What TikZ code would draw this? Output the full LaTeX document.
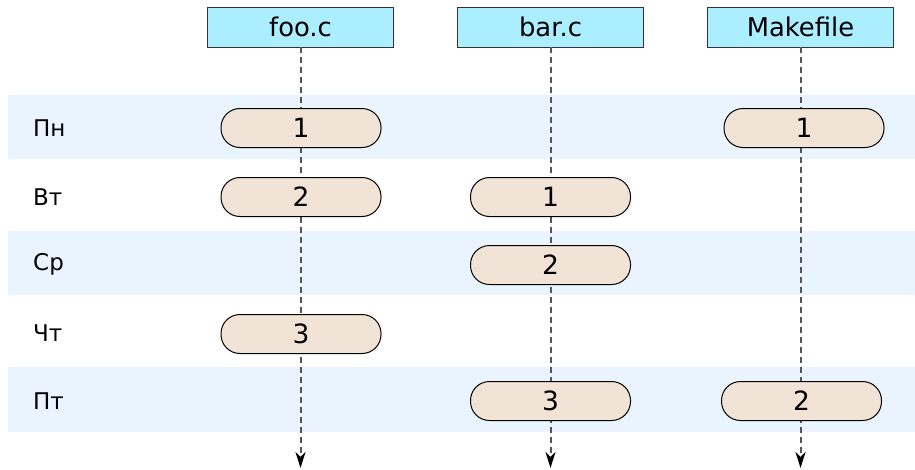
\documentclass[tikz,border=0pt]{standalone}
\usepackage{fontspec}
\setmainfont{DejaVu Sans}
\usetikzlibrary{arrows.meta}
\definecolor{hdr}{HTML}{AAEEFF}
\definecolor{pillc}{HTML}{F2E3D7}
\definecolor{stripe}{HTML}{EAF4FE}
\definecolor{life}{HTML}{555555}
\tikzset{
 hdrbox/.style={draw=black!80, fill=hdr, line width=0.8pt, minimum width=186pt, minimum height=40pt, inner sep=0pt, font=\fontsize{25.8}{30}\selectfont},
 pillbox/.style={draw=black, fill=pillc, line width=1pt, rounded corners=19pt, minimum width=160pt, minimum height=39pt, inner sep=0pt, font=\fontsize{26.5}{30}\selectfont},
 daylabel/.style={anchor=west, font=\fontsize{23}{27}\selectfont, inner sep=0pt},
 lifeline/.style={draw=life, line width=2pt, dash pattern=on 6pt off 4pt, -{Stealth[length=16pt,width=10pt,inset=5pt,black]}},
 stripefill/.style={fill=stripe}
}
\begin{document}
\begin{tikzpicture}[x=1pt,y=-1pt]
\useasboundingbox (0,0) rectangle (915,469);
\fill[white] (0,0) rectangle (915,469);
\fill[stripefill] (8,95) rectangle (915,159);
\fill[stripefill] (8,231) rectangle (915,295);
\fill[stripefill] (8,367) rectangle (915,432);
\node[daylabel] (d1) at (33,128) {Пн};
\node[daylabel] (d2) at (33,197) {Вт};
\node[daylabel] (d3) at (33,264) {Ср};
\node[daylabel] (d4) at (33,333) {Чт};
\node[daylabel] (d5) at (33,401) {Пт};
\node[hdrbox] (foo) at (300.5,27) {foo.c};
\node[hdrbox] (bar) at (550.5,27) {bar.c};
\node[hdrbox] (mk) at (800.5,27) {Makefile};
\coordinate (fooend) at (300.5,468);
\coordinate (barend) at (550.5,468);
\coordinate (mkend) at (800.5,468);
\draw[lifeline] (foo.south) -- (fooend);
\draw[lifeline] (bar.south) -- (barend);
\draw[lifeline] (mk.south) -- (mkend);
\node[pillbox] (f1) at (301,128) {1};
\node[pillbox] (f2) at (301,197) {2};
\node[pillbox] (f3) at (301,334) {3};
\node[pillbox] (b1) at (550.5,197) {1};
\node[pillbox] (b2) at (550.5,265) {2};
\node[pillbox] (b3) at (550.5,401) {3};
\node[pillbox] (m1) at (804,128) {1};
\node[pillbox] (m2) at (801.5,401) {2};
\end{tikzpicture}
\end{document}
